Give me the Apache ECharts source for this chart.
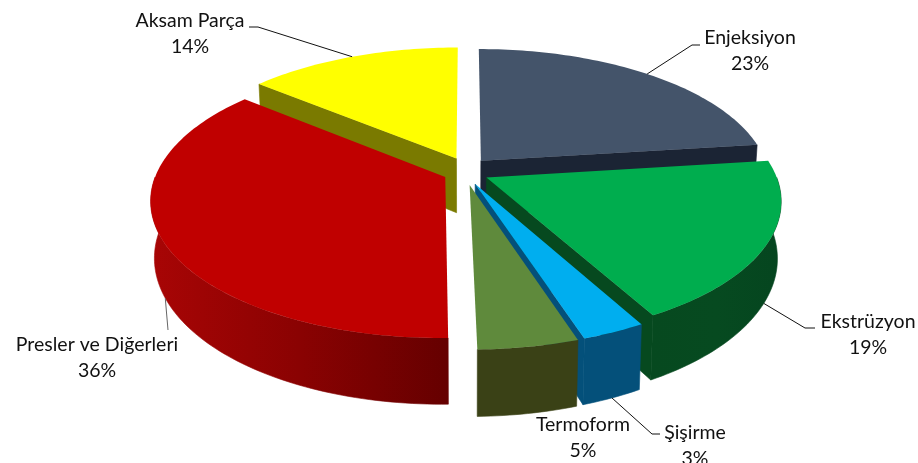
<!DOCTYPE html>
<html>
<head>
<meta charset="utf-8">
<style>html,body{margin:0;padding:0;background:#fff}#c{width:918px;height:463px}</style>
<script src="https://cdn.jsdelivr.net/npm/echarts@6/dist/echarts.min.js"></script>
</head>
<body>
<div id="c"></div>
<script>
// Data, clockwise from 12 o'clock
const categories = ['Enjeksiyon', 'Ekstrüzyon', 'Şişirme', 'Termoform', 'Presler ve Diğerleri', 'Aksam Parça'];
const values = [23, 19, 3, 5, 36, 14];

// Styles
const topColors = ['#44546a', '#00ad4e', '#00aeef', '#5f8a3c', '#c00000', '#ffff00'];
const wallColors = ['#1b2434', '#06491f', '#04507a', '#3a4116', '#8c0303', '#7a7a00'];
const wallGradients = [null, ['#06491f', '#064a20', '#05451f'], null, null, ['#a80505', '#8a0202', '#650000'], null];

// Layout: elbow/end of each leader and centre of each two-line label
const leaderBends = [[[692, 45], [700, 45]], [[805, 328], [815, 328]], [[652, 434], [660, 434]], null, [[168, 330]], [[258, 27], [249, 27]]];
const labelCentres = [[750, 38], [868, 322], [695, 433], [583, 425], [97, 345], [190, 21]];
const paintOrder = [0, 5, 4, 1, 2, 3];

// Projection of the tilted disc
const CX = 466, CY = 171, RX = 288, RY = 132.8, PERSP = 0.162, DEPTH = 55, BOTTOM_X = 0.988;
const EXPLODE_X = 0.079, EXPLODE_Y = 0.105;
const total = values.reduce((a, b) => a + b, 0);
const starts = [];
values.reduce((acc, v, i) => { starts[i] = acc / total * 2 * Math.PI; return acc + v; }, 0);

function project(u, v, bottom) {
  const w = 1 / (1 - PERSP * v);
  const x = RX * u * w, y = RY * v * w;
  return bottom ? [CX + x * BOTTOM_X, CY + y + DEPTH * w] : [CX + x, CY + y];
}
// The camera sits slightly left of the pie, so the front seam leans right
function viewAngle(a) {
  const d = (a - Math.PI) / 0.18;
  return a - 0.02 * Math.exp(-d * d);
}
function rimPoint(i, a, bottom) {
  const mid = starts[i] + values[i] / total * Math.PI;
  const t = viewAngle(a);
  return project(Math.sin(t) + EXPLODE_X * Math.sin(mid), -Math.cos(t) - EXPLODE_Y * Math.cos(mid), bottom);
}
function apexPoint(i, bottom) {
  const mid = starts[i] + values[i] / total * Math.PI;
  return project(EXPLODE_X * Math.sin(mid), -EXPLODE_Y * Math.cos(mid), bottom);
}
function rimPath(i, a0, a1, bottom) {
  const pts = [], n = Math.max(2, Math.ceil((a1 - a0) / 0.02));
  for (let k = 0; k <= n; k++) pts.push(rimPoint(i, a0 + (a1 - a0) * k / n, bottom));
  return pts;
}

function renderItem(params, api) {
  const i = paintOrder[params.dataIndex];
  const a0 = starts[i], a1 = a0 + values[i] / total * 2 * Math.PI;
  const kids = [];
  const poly = (points, fill, seal) => kids.push({ type: 'polygon', shape: { points }, style: { fill, stroke: seal ? fill : null, lineWidth: seal ? 0.6 : 0 } });

  // Cut faces that turn towards the viewer
  if (Math.sin(a0) < -1e-6) poly([apexPoint(i, false), rimPoint(i, a0, false), rimPoint(i, a0, true), apexPoint(i, true)], wallColors[i], true);
  if (Math.sin(a1) > 1e-6) poly([apexPoint(i, false), rimPoint(i, a1, false), rimPoint(i, a1, true), apexPoint(i, true)], wallColors[i], true);

  // Outer wall on the front half only
  const w0 = Math.max(a0, Math.PI / 2), w1 = Math.min(a1, 1.5 * Math.PI);
  if (w1 > w0) {
    const g = wallGradients[i];
    const fill = g ? new echarts.graphic.LinearGradient(0, 0, 1, 0, g.map((c, k) => ({ offset: k / (g.length - 1), color: c }))) : wallColors[i];
    poly(rimPath(i, w0, w1, false).concat(rimPath(i, w0, w1, true).reverse()), fill, true);
  }

  // Top face
  poly([apexPoint(i, false)].concat(rimPath(i, a0, a1, false)), topColors[i], false);

  // Leader line: starts on the rim at the slice's middle angle
  if (leaderBends[i]) {
    const mid = (a0 + a1) / 2;
    const front = -Math.cos(mid) > 0;
    const start = rimPoint(i, mid, front);
    kids.push({
      type: 'polyline',
      shape: { points: [start].concat(leaderBends[i]) },
      style: { fill: null, stroke: i === 4 ? '#666' : '#111', lineWidth: 1 }
    });
  }
  // Label
  const c = labelCentres[i];
  [categories[i], values[i] + '%'].forEach((t, k) => kids.push({
    type: 'text',
    style: { text: t, x: c[0], y: c[1] + k * 26, align: 'center', verticalAlign: 'middle', fill: '#111', font: '19.5px Lato, "Noto Sans", sans-serif' }
  }));
  return { type: 'group', children: kids };
}

const chart = echarts.init(document.getElementById('c'), null, { renderer: 'canvas' });
chart.setOption({
  backgroundColor: '#ffffff',
  animation: false,
  series: [{
    type: 'custom',
    coordinateSystem: 'none',
    renderItem,
    silent: true,
    data: paintOrder.map(i => ({ name: categories[i], value: values[i] }))
  }]
});
</script>
</body>
</html>
